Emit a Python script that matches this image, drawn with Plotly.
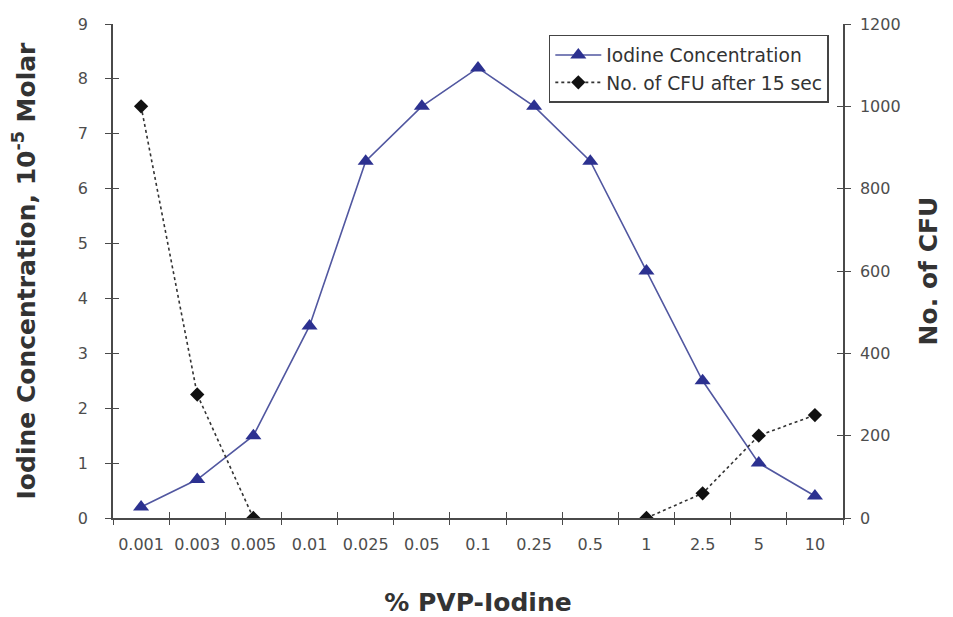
import plotly.graph_objects as go

categories = ["0.001", "0.003", "0.005", "0.01", "0.025", "0.05", "0.1",
              "0.25", "0.5", "1", "2.5", "5", "10"]
iodine = [0.2, 0.7, 1.5, 3.5, 6.5, 7.5, 8.2, 7.5, 6.5, 4.5, 2.5, 1.0, 0.4]
cfu = [1000, 300, 0, None, None, None, None, None, None, 0, 60, 200, 250]
left_ticks = list(range(0, 10))
right_ticks = [0, 200, 400, 600, 800, 1000, 1200]

idx = list(range(len(categories)))
bounds = [i - 0.5 for i in range(len(categories) + 1)]

FONT = "DejaVu Sans"
AX = "#4a4a4a"
TXT = "#333333"
TICKTXT = "#4d4d4d"

fig = go.Figure()
fig.add_trace(go.Scatter(
    x=idx, y=iodine, name="Iodine Concentration", mode="lines+markers",
    line=dict(color="#5157a0", width=1.6),
    marker=dict(symbol="triangle-up", size=14, color="#2c3190"),
    xaxis="x", yaxis="y"))
fig.add_trace(go.Scatter(
    x=idx, y=cfu, name="No. of CFU after 15 sec", mode="lines+markers",
    line=dict(color="#333333", width=1.6, dash="dot"),
    marker=dict(symbol="diamond", size=11, color="#111111"),
    connectgaps=False, xaxis="x", yaxis="y2"))

common = dict(showgrid=False, zeroline=False, linecolor=AX, linewidth=1.5,
              tickcolor=AX, tickwidth=1.3, automargin=False)
overlay = dict(showline=False, showgrid=False, zeroline=False,
               tickcolor=AX, tickwidth=1.3, showticklabels=False, ticklen=6,
               automargin=False)

fig.update_layout(
    width=945, height=609,
    margin=dict(l=105, r=110, t=16, b=99),
    paper_bgcolor="white", plot_bgcolor="white",
    font=dict(family=FONT, color=TXT),
    showlegend=True,
    legend=dict(x=0.597, y=0.978, xanchor="left", yanchor="top",
                bordercolor="#444444", borderwidth=1.5, bgcolor="white",
                font=dict(size=18.7, color="#333333"), tracegroupgap=0,
                itemwidth=46),
    xaxis=dict(range=[-0.5, 12.5], tickmode="array", tickvals=idx,
               ticktext=categories, ticks="", showline=True,
               ticklabelstandoff=11,
               tickfont=dict(size=16, color=TICKTXT, family=FONT),
               title=dict(text="<b>% PVP-Iodine</b>",
                          font=dict(size=25, color=TXT, family=FONT),
                          standoff=42),
               **common),
    xaxis2=dict(range=[-0.5, 12.5], tickmode="array", tickvals=bounds,
                ticks="outside", overlaying="x", anchor="y", **overlay),
    xaxis3=dict(range=[-0.5, 12.5], tickmode="array", tickvals=bounds,
                ticks="inside", overlaying="x", anchor="y", **overlay),
    yaxis=dict(range=[0, 9], tickmode="array", tickvals=left_ticks,
               ticks="outside", ticklen=6, showline=True,
               ticklabelstandoff=14,
               tickfont=dict(size=16, color=TICKTXT, family=FONT),
               title=dict(text="<b>Iodine Concentration, 10<sup>-5</sup> Molar</b>",
                          font=dict(size=25, color=TXT, family=FONT), standoff=36),
               **common),
    yaxis3=dict(range=[0, 9], tickmode="array", tickvals=left_ticks,
                ticks="inside", overlaying="y", anchor="x", side="left",
                **overlay),
    yaxis2=dict(range=[0, 1200], tickmode="array", tickvals=right_ticks,
                ticks="outside", ticklen=6, showline=True, side="right",
                overlaying="y", anchor="x", ticklabelstandoff=6,
                tickfont=dict(size=16, color=TICKTXT, family=FONT),
                title=dict(text="<b>No. of CFU</b>",
                           font=dict(size=25, color=TXT, family=FONT),
                           standoff=20),
                **common),
    yaxis4=dict(range=[0, 1200], tickmode="array", tickvals=right_ticks,
                ticks="inside", overlaying="y", anchor="x", side="right",
                **overlay),
)

# invisible helper traces so the tick-overlay axes render
fig.add_trace(go.Scatter(x=[None], y=[None], xaxis="x2", yaxis="y3",
                         showlegend=False, hoverinfo="skip"))
fig.add_trace(go.Scatter(x=[None], y=[None], xaxis="x3", yaxis="y4",
                         showlegend=False, hoverinfo="skip"))

fig.write_html("out.html")
